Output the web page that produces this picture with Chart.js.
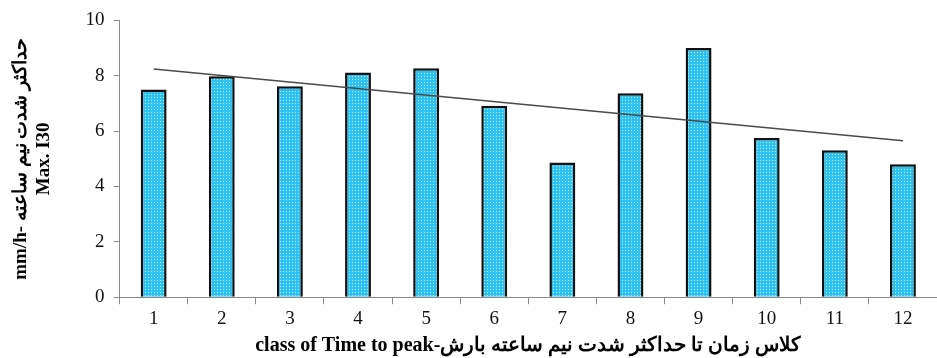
<!DOCTYPE html>
<html>
<head>
<meta charset="utf-8">
<script src="https://cdn.jsdelivr.net/npm/chart.js@4"></script>
<style>
  html, body { margin: 0; padding: 0; background: #fff; }
  #wrap { width: 937px; height: 358px; }
</style>
</head>
<body>
<div id="wrap"><canvas id="peak_chart"></canvas></div>
<script>
const classes = ["1", "2", "3", "4", "5", "6", "7", "8", "9", "10", "11", "12"];
const maxI30 = [7.5, 7.98, 7.62, 8.12, 8.27, 6.92, 4.87, 7.37, 9.0, 5.75, 5.31, 4.8];
const trendStart = 8.24;
const trendEnd = 5.65;
const yTicks = [0, 2, 4, 6, 8, 10];

// dotted light blue fill like the original
function barPattern() {
  const c = document.createElement("canvas");
  c.width = 3;
  c.height = 3;
  const g = c.getContext("2d");
  g.fillStyle = "#2cc3f4";
  g.fillRect(0, 0, 3, 3);
  g.fillStyle = "rgba(255,255,255,0.7)";
  g.fillRect(1, 1, 1, 1);
  return g.createPattern(c, "repeat");
}

const trend = classes.map(() => null);
trend[0] = trendStart;
trend[trend.length - 1] = trendEnd;

const ctx = document.getElementById("peak_chart");
const serif = "'Liberation Serif', 'Times New Roman', 'DejaVu Serif', serif";

new Chart(ctx, {
  type: "bar",
  data: {
    labels: classes,
    datasets: [
      {
        type: "line",
        data: trend,
        spanGaps: true,
        borderColor: "#4a4a4a",
        borderWidth: 1.5,
        pointRadius: 0,
        fill: false,
        order: 0,
      },
      {
        data: maxI30,
        backgroundColor: barPattern(),
        borderColor: "#111",
        borderWidth: 2.5,
        barPercentage: 0.38,
        categoryPercentage: 1,
        order: 1,
      },
    ],
  },
  options: {
    responsive: true,
    maintainAspectRatio: false,
    animation: false,
    layout: { padding: { top: 14, right: 0, bottom: 0, left: 10 } },
    plugins: {
      legend: { display: false },
      tooltip: { enabled: false },
    },
    scales: {
      x: {
        grid: {
          display: true,
          drawOnChartArea: false,
          drawTicks: true,
          tickLength: 7,
          color: "#8a8a8a",
        },
        border: { color: "#8a8a8a" },
        ticks: {
          color: "#111",
          font: { family: serif, size: 19 },
          padding: 3,
        },
        title: {
          display: true,
          text: "class of Time to peak-کلاس زمان تا حداکثر شدت نیم ساعته بارش",
          color: "#000",
          font: { family: serif, size: 20, weight: "bold" },
          padding: { top: 1, bottom: 0 },
        },
      },
      y: {
        min: 0,
        max: 10,
        afterBuildTicks: axis => {
          axis.ticks = yTicks.map(v => ({ value: v }));
        },
        grid: {
          display: true,
          drawOnChartArea: false,
          drawTicks: true,
          tickLength: 6,
          color: "#8a8a8a",
        },
        border: { color: "#8a8a8a" },
        ticks: {
          color: "#111",
          font: { family: serif, size: 19 },
          padding: 9,
        },
        title: {
          display: true,
          text: ["mm/h- حداکثر شدت نیم ساعته", "Max. I30"],
          color: "#000",
          font: { family: serif, size: 19, weight: "bold" },
          padding: { top: 0, bottom: 21 },
        },
      },
    },
  },
});
</script>
</body>
</html>
